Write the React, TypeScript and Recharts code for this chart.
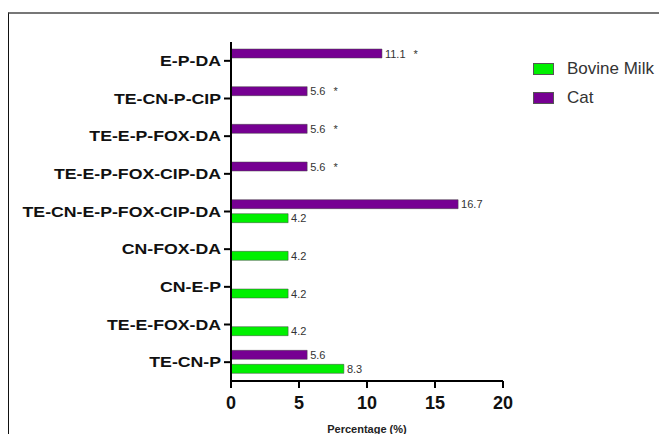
import { Bar, BarChart, LabelList, XAxis, YAxis } from "recharts";

const categories = [
    "E-P-DA",
    "TE-CN-P-CIP",
    "TE-E-P-FOX-DA",
    "TE-E-P-FOX-CIP-DA",
    "TE-CN-E-P-FOX-CIP-DA",
    "CN-FOX-DA",
    "CN-E-P",
    "TE-E-FOX-DA",
    "TE-CN-P",
];
const cat = [11.1, 5.6, 5.6, 5.6, 16.7, null, null, null, 5.6];
const bovine = [null, null, null, null, 4.2, 4.2, 4.2, 4.2, 8.3];
const catStar = [true, true, true, true, false, false, false, false, false];
const xTicks = [0, 5, 10, 15, 20];

const FONT = "'Liberation Sans', Arial, Helvetica, sans-serif";
const GREEN = "#00f000";
const PURPLE = "#760092";

const data = categories.map((name, i) => ({
    name,
    cat: cat[i],
    bovine: bovine[i],
    star: catStar[i],
}));

function ValueLabel(props: any) {
    const { x, y, width, height, value, index, star } = props;
    if (value == null) return null;
    const showStar = star && data[index].star;
    return (
        <text
            x={x + width + 3}
            y={y + height / 2}
            dy={4}
            fontSize={11}
            fill="#333"
            fontFamily={FONT}
        >
            {value}
            {showStar && <tspan dx={8}>*</tspan>}
        </text>
    );
}

function CategoryTick(props: any) {
    const { x, y, payload } = props;
    return (
        <g transform={`translate(${x - 1},${y}) scale(1.18,1)`}>
            <text
                x={0}
                y={0}
                dy={5}
                textAnchor="end"
                fontSize={15}
                fontWeight={700}
                fill="#111"
                fontFamily={FONT}
            >
                {payload.value}
            </text>
        </g>
    );
}

function AxisTitle(props: any) {
    const { viewBox } = props;
    return (
        <text
            x={viewBox.x + viewBox.width / 2}
            y={viewBox.y + 52}
            textAnchor="middle"
            fontSize={11}
            fontWeight={700}
            fill="#222"
            fontFamily={FONT}
        >
            Percentage (%)
        </text>
    );
}

function LegendBox() {
    const items = [
        { name: "Bovine Milk", color: GREEN },
        { name: "Cat", color: PURPLE },
    ];
    return (
        <div style={{ fontFamily: FONT }}>
            {items.map((item) => (
                <div
                    key={item.name}
                    style={{ display: "flex", alignItems: "center", height: 29 }}
                >
                    <span
                        style={{
                            width: 21,
                            height: 12,
                            background: item.color,
                            border: "1px solid #555",
                            boxSizing: "border-box",
                            marginRight: 13,
                        }}
                    />
                    <span style={{ fontSize: 17, color: "#333" }}>{item.name}</span>
                </div>
            ))}
        </div>
    );
}

export default function App() {
    return (
        <div
            style={{
                position: "relative",
                width: 667,
                height: 442,
                margin: -8,
                background: "#fff",
                overflow: "hidden",
            }}
        >
            <div
                style={{
                    position: "absolute",
                    left: 8,
                    top: 12,
                    width: 659,
                    height: 430,
                    borderTop: "2px solid #777",
                    borderLeft: "1px solid #111",
                }}
            />
            <div style={{ position: "absolute", left: 0, top: 0 }}>
                <BarChart
                    width={667}
                    height={442}
                    data={data}
                    layout="vertical"
                    margin={{ top: 42, right: 164, left: 0, bottom: 0 }}
                    barSize={9}
                    barGap={5}
                >
                    <XAxis
                        type="number"
                        domain={[0, 20]}
                        ticks={xTicks}
                        height={61}
                        stroke="#000"
                        strokeWidth={2}
                        tickSize={7}
                        tickMargin={8}
                        tick={{
                            fontSize: 18,
                            fontWeight: 700,
                            fill: "#111",
                            fontFamily: FONT,
                        }}
                        label={<AxisTitle />}
                    />
                    <YAxis
                        type="category"
                        dataKey="name"
                        width={231}
                        stroke="#000"
                        strokeWidth={2}
                        tickSize={7}
                        interval={0}
                        tick={<CategoryTick />}
                    />
                    <Bar
                        dataKey="cat"
                        name="Cat"
                        fill={PURPLE}
                        stroke="#444"
                        strokeWidth={0.5}
                        isAnimationActive={false}
                    >
                        <LabelList
                            dataKey="cat"
                            content={(p: any) => <ValueLabel {...p} star />}
                        />
                    </Bar>
                    <Bar
                        dataKey="bovine"
                        name="Bovine Milk"
                        fill={GREEN}
                        stroke="#444"
                        strokeWidth={0.5}
                        isAnimationActive={false}
                    >
                        <LabelList
                            dataKey="bovine"
                            content={(p: any) => <ValueLabel {...p} />}
                        />
                    </Bar>
                </BarChart>
            </div>
            <div style={{ position: "absolute", left: 533, top: 54 }}>
                <LegendBox />
            </div>
        </div>
    );
}
